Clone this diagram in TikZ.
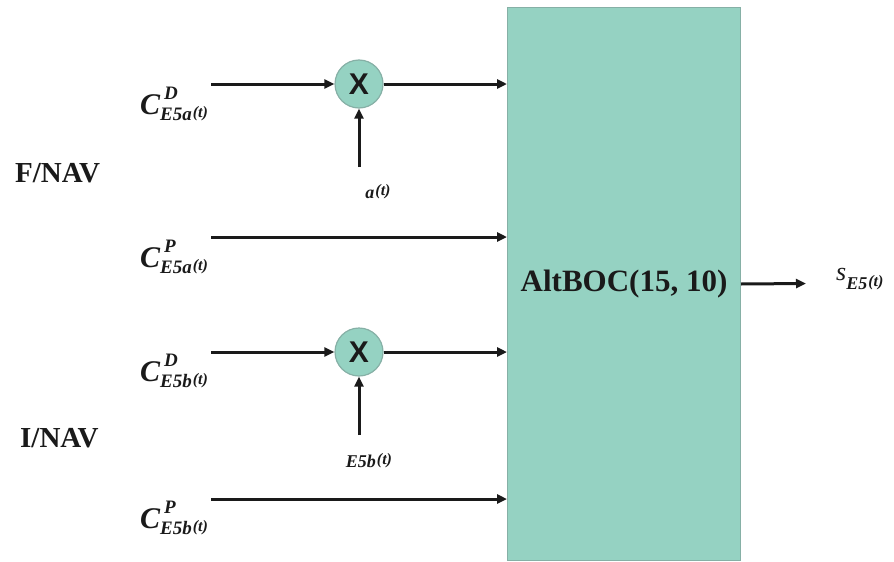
\documentclass[tikz,border=0pt]{standalone}
\usepackage{fontspec}
\setmainfont{Liberation Serif}
\newfontfamily\xsans{Liberation Sans}
\usetikzlibrary{arrows.meta}
\definecolor{teal1}{HTML}{95D2C2}
\definecolor{tealedge}{HTML}{86B0A6}
\definecolor{ink}{HTML}{1A1A1A}
\newcommand{\fs}[1]{\fontsize{#1pt}{#1pt}\selectfont}
\newcommand{\tpart}{\raisebox{3pt}{\fs{16}\bfseries\itshape (t)}}
\newcommand{\Csig}[2]{{\fs{30}\bfseries\itshape C}\rlap{\raisebox{15pt}{\fs{19}\bfseries\itshape\kern4pt #1}}\raisebox{-6pt}{\fs{19}\bfseries\itshape #2\kern1pt\tpart}}
\tikzset{
  arr/.style={draw=ink, line width=3pt, -{Triangle[length=10pt,width=9pt]}},
  altbox/.style={draw=tealedge, line width=1pt, fill=teal1, minimum width=233pt, minimum height=553pt, inner sep=0pt, font=\fs{31}\bfseries, text=ink},
  mult/.style={circle, draw=tealedge, line width=1.2pt, fill=teal1, minimum size=48pt, inner sep=0pt, font=\xsans\fs{30}\bfseries, text=ink},
  sig/.style={anchor=base west, inner sep=0pt, text=ink},
  grp/.style={anchor=base west, inner sep=0pt, font=\fs{29}\bfseries, text=ink},
  small/.style={anchor=base, inner sep=0pt, text=ink}
}
\begin{document}
\begin{tikzpicture}[x=1pt,y=-1pt]
\useasboundingbox (0,0) rectangle (894,562);
\node[altbox, anchor=north west] (alt) at (507,7) {AltBOC(15, 10)};
\node[mult] (m1) at (359,84) {X};
\node[mult] (m2) at (359,352) {X};
\coordinate (s1) at (211,84);
\coordinate (s2) at (211,237);
\coordinate (s3) at (211,352);
\coordinate (s4) at (211,499);
\coordinate (v1) at (359,167);
\coordinate (v2) at (359,435);
\coordinate (o) at (806,283.5);
\draw[arr] (s1) -- (m1);
\draw[arr] (m1) -- (m1 -| alt.west);
\draw[arr] (v1) -- (m1);
\draw[arr] (s2) -- (s2 -| alt.west);
\draw[arr] (s3) -- (m2);
\draw[arr] (m2) -- (m2 -| alt.west);
\draw[arr] (v2) -- (m2);
\draw[arr] (s4) -- (s4 -| alt.west);
\draw[arr] (alt.east) -- (o);
\node[sig] (l1) at (140,114) {\Csig{D}{E5a}};
\node[sig] (l2) at (140,267) {\Csig{P}{E5a}};
\node[sig] (l3) at (140,381) {\Csig{D}{E5b}};
\node[sig] (l4) at (140,528) {\Csig{P}{E5b}};
\node[small] (la) at (378,198) {{\fs{18}\bfseries\itshape a}\kern1pt\tpart};
\node[small] (lb) at (369,467) {{\fs{18}\bfseries\itshape E5b}\kern1pt\tpart};
\node[sig] (ls) at (836,280) {{\fs{26}\itshape s}\raisebox{-9pt}{\fs{18}\bfseries\itshape E5\kern1pt\tpart}};
\node[grp] (f) at (15,182) {F/NAV};
\node[grp] (i) at (20,447) {I/NAV};
\end{tikzpicture}
\end{document}
